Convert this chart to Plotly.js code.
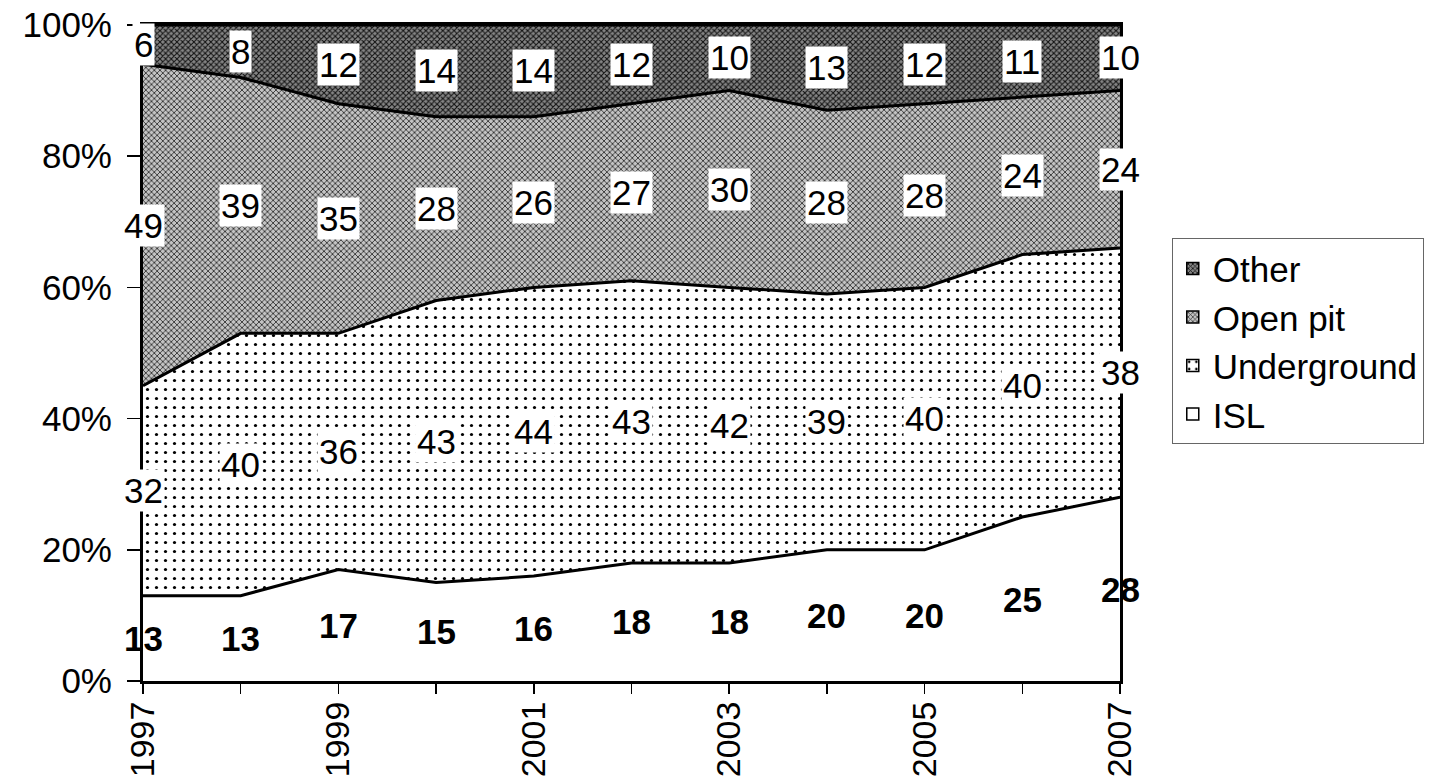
<!DOCTYPE html>
<html>
<head>
<meta charset="utf-8">
<script src="https://cdn.plot.ly/plotly-3.0.1.min.js"></script>
<style>html,body{margin:0;padding:0;background:#fff;}#chart{width:1450px;height:781px;}</style>
</head>
<body>
<div id="chart"></div>
<script>
var years = [1997, 1998, 1999, 2000, 2001, 2002, 2003, 2004, 2005, 2006, 2007];
var isl = [13, 13, 17, 15, 16, 18, 18, 20, 20, 25, 28];
var underground = [32, 40, 36, 43, 44, 43, 42, 39, 40, 40, 38];
var openPit = [49, 39, 35, 28, 26, 27, 30, 28, 28, 24, 24];
var other = [6, 8, 12, 14, 14, 12, 10, 13, 12, 11, 10];
var yTicks = [0, 20, 40, 60, 80, 100];
var xLabelYears = [1997, 1999, 2001, 2003, 2005, 2007];

var FONT = 'Liberation Sans, Arial, sans-serif';
var series = [
  {name: 'ISL', v: isl, pattern: null},
  {name: 'Underground', v: underground, pattern: {shape: '.', fgcolor: '#000', bgcolor: '#fff', size: 9, solidity: 0.1}},
  {name: 'Open pit', v: openPit, pattern: {shape: 'x', fgcolor: '#2a2a2a', bgcolor: '#c4c4c4', size: 4, solidity: 0.38}},
  {name: 'Other', v: other, pattern: {shape: 'x', fgcolor: '#111', bgcolor: '#858585', size: 4, solidity: 0.45}}
];

var traces = series.map(function (s) {
  var t = {
    type: 'scatter', mode: 'lines', name: s.name, x: years, y: s.v,
    stackgroup: 'one', line: {color: '#000', width: 3},
    fillcolor: '#fff', hoverinfo: 'skip', showlegend: false
  };
  if (s.pattern) t.fillpattern = s.pattern;
  return t;
});

// legend-only square swatches (no marks drawn on the plot)
series.forEach(function (s) {
  var m = {color: '#fff', line: {color: '#000', width: 1.5}};
  if (s.pattern) m.pattern = s.pattern;
  traces.push({
    type: 'bar', name: s.name, x: [null], y: [null], marker: m,
    showlegend: true, hoverinfo: 'skip'
  });
});

var annotations = [];
var base = years.map(function () { return 0; });
series.forEach(function (s, si) {
  years.forEach(function (yr, i) {
    var mid = base[i] + s.v[i] / 2;
    var a = {
      x: yr, y: mid, xref: 'x', yref: 'y', text: String(s.v[i]),
      showarrow: false, xanchor: 'center', yanchor: 'middle',
      font: {family: FONT, size: 35, color: '#000'}
    };
    if (si === 0) {
      a.text = '<b>' + s.v[i] + '</b>';
    } else {
      a.bgcolor = '#fff';
      a.borderpad = 1;
    }
    annotations.push(a);
  });
  years.forEach(function (yr, i) { base[i] += s.v[i]; });
});

var ticktext = years.map(function (y) { return xLabelYears.indexOf(y) >= 0 ? String(y) : ''; });

var layout = {
  width: 1450, height: 781,
  margin: {l: 143, r: 330, t: 25, b: 100},
  paper_bgcolor: '#fff', plot_bgcolor: '#fff',
  font: {family: FONT, size: 35, color: '#000'},
  showlegend: true,
  legend: {
    x: 1.053, y: 0.675, xanchor: 'left', yanchor: 'top',
    traceorder: 'reversed', bordercolor: '#666', borderwidth: 1,
    font: {family: FONT, size: 35, color: '#000'}, tracegroupgap: 0
  },
  xaxis: {
    range: [1997, 2007], tickmode: 'array', tickvals: years, ticktext: ticktext,
    tickangle: -90, ticks: 'outside', ticklen: 10, tickcolor: '#000', tickwidth: 1.5,
    ticklabelstandoff: -6,
    showline: true, linecolor: '#000', linewidth: 3, mirror: true,
    showgrid: false, zeroline: false, fixedrange: true,
    tickfont: {family: FONT, size: 34, color: '#000'}
  },
  yaxis: {
    range: [0, 100], tickmode: 'array', tickvals: yTicks,
    ticktext: yTicks.map(function (v) { return v + '%'; }),
    ticks: 'outside', ticklen: 13, tickcolor: '#000', tickwidth: 1.5,
    ticklabelstandoff: 8,
    showline: true, linecolor: '#000', linewidth: 3, mirror: true,
    showgrid: false, zeroline: false, fixedrange: true,
    tickfont: {family: FONT, size: 35, color: '#000'}
  },
  annotations: annotations
};

Plotly.newPlot('chart', traces, layout, {displayModeBar: false, staticPlot: true});
</script>
</body>
</html>
